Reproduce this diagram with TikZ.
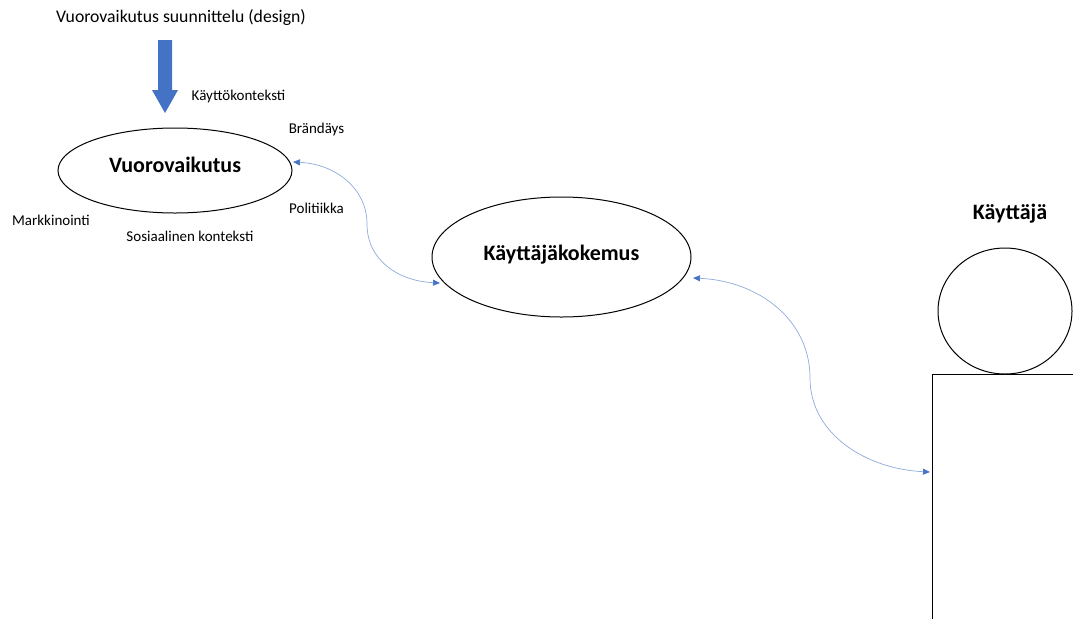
\documentclass[tikz,border=0pt]{standalone}
\usepackage{fontspec}
\setmainfont{Carlito}
\usetikzlibrary{arrows.meta,shapes.geometric}
\definecolor{blk}{HTML}{4472C4}
\definecolor{lnk}{HTML}{8FAADC}
\begin{document}
\begin{tikzpicture}[x=1pt,y=-1pt,
  lbl/.style={inner sep=0pt,font=\fontsize{15}{17}\selectfont},
  big/.style={inner sep=0pt,font=\fontsize{22}{24}\selectfont\bfseries},
  oval/.style={draw,ellipse,line width=1pt,inner sep=0pt},
  conn/.style={draw=lnk,line width=0.7pt,{Triangle[length=7pt,width=6pt,color=blk]}-{Triangle[length=7pt,width=6pt,color=blk]}}]
\useasboundingbox (0,0) rectangle (1073,619);
% title and block arrow
\node[lbl,font=\fontsize{17.7}{20}\selectfont] (title) at (181,18) {Vuorovaikutus suunnittelu (design)};
\fill[blk] (158,40) -- (172,40) -- (172,90) -- (178,90) -- (165,113) -- (152,90) -- (158,90) -- cycle;
% ellipses
\node[oval,minimum width=234pt,minimum height=85pt] (e1) at (175,170.5) {};
\node[big] (t1) at (175,165) {Vuorovaikutus};
\node[oval,minimum width=259pt,minimum height=120pt] (e2) at (561.5,257) {};
\node[big] (t2) at (561.5,255) {Käyttäjäkokemus};
% labels
\node[lbl] (l1) at (238.5,96) {Käyttökonteksti};
\node[lbl] (l2) at (316.5,129) {Brändäys};
\node[lbl] (l3) at (316.5,208) {Politiikka};
\node[lbl] (l4) at (51,220) {Markkinointi};
\node[lbl] (l5) at (190,236) {Sosiaalinen konteksti};
% user
\node[big] (ku) at (1010,214) {Käyttäjä};
\node[oval,minimum width=134pt,minimum height=126pt] (head) at (1005,311) {};
\draw[line width=1pt] (1073,374) -- (932,374) -- (932,619);
\coordinate (bodyL) at (930,472);
\coordinate (p1) at (293,162);
\coordinate (m1) at (367,224);
\coordinate (p2) at (440,283);
\coordinate (p3) at (693,278);
\coordinate (m2) at (810,378);
% connectors
\draw[conn] (p1) .. controls +(42,2) and +(0,-36) .. (m1)
                 .. controls +(0,36) and +(-42,-2) .. (p2);
\draw[conn] (p3) .. controls +(66,3) and +(0,-58) .. (m2)
                 .. controls +(0,56) and +(-64,-3) .. (bodyL);
\end{tikzpicture}
\end{document}
